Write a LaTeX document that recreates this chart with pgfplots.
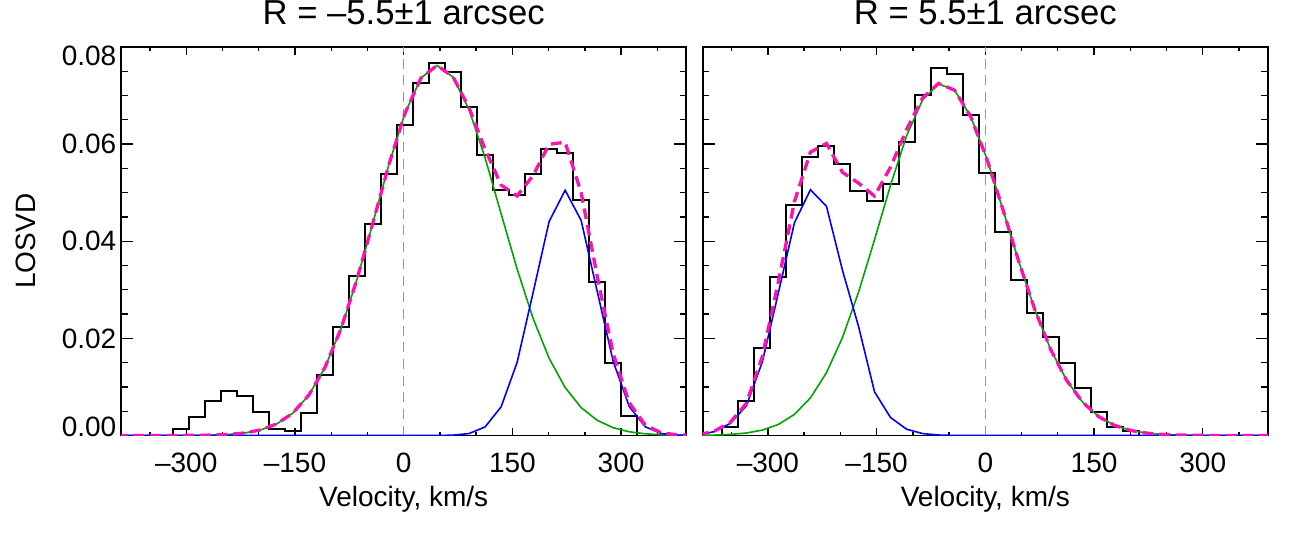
\documentclass[border=0pt]{standalone}
\usepackage{fontspec}
\setmainfont{Liberation Sans}
\usepackage{pgfplots}
\usepackage{pgfplotstable}
\pgfplotsset{compat=1.18}

\definecolor{fitgreen}{RGB}{0,165,0}
\definecolor{fitblue}{RGB}{0,0,255}
\definecolor{fitpink}{RGB}{250,20,175}
\definecolor{zeroline}{RGB}{150,150,150}

% Histogram: left bin edge, bin height
\pgfplotstableread{
edge h
-400 0
-318.65 0.0013
-296.55 0.0039
-274.45 0.0071
-252.35 0.0091
-230.25 0.0082
-208.15 0.0048
-186.05 0.0013
-163.95 0.0009
-141.85 0.0047
-119.75 0.0124
-97.65 0.0223
-75.55 0.0328
-53.45 0.0436
-31.35 0.0538
-9.25 0.0640
12.85 0.0725
34.95 0.0768
57.05 0.0749
79.15 0.0676
101.25 0.0578
123.35 0.0506
145.45 0.0495
167.55 0.0539
189.65 0.0590
211.75 0.0582
233.85 0.0484
255.95 0.0317
278.05 0.0149
300.15 0.0041
322.25 0
400 0
}\histleft

\pgfplotstableread{
edge h
-400 0
-362.85 0.0017
-340.75 0.0071
-318.65 0.0180
-296.55 0.0327
-274.45 0.0474
-252.35 0.0573
-230.25 0.0597
-208.15 0.0560
-186.05 0.0504
-163.95 0.0482
-141.85 0.0518
-119.75 0.0605
-97.65 0.0701
-75.55 0.0757
-53.45 0.0744
-31.35 0.0660
-9.25 0.0540
12.85 0.0420
34.95 0.0321
57.05 0.0253
79.15 0.0202
101.25 0.0150
123.35 0.0097
145.45 0.0049
167.55 0.0017
189.65 0.0010
211.75 0
400 0
}\histright

% Fitted components at the bin centres
\pgfplotstableread{
v green blue total
-396.0 0 0 0
-373.9 0 0 0
-351.8 0 0 0
-329.7 0 0 0
-307.6 0.00001 0 0.00001
-285.5 0.00003 0 0.00003
-263.4 0.00009 0 0.00009
-241.3 0.00022 0 0.00022
-219.2 0.00052 0 0.00052
-197.1 0.00116 0 0.00116
-175.0 0.00239 0 0.00239
-152.9 0.00462 0 0.00462
-130.8 0.00832 0 0.00832
-108.7 0.01398 0 0.01398
-86.6 0.02192 0 0.02192
-64.5 0.03208 0 0.03208
-42.4 0.04380 0 0.04380
-20.3 0.05581 0 0.05581
1.8 0.06635 0 0.06635
23.9 0.07361 0 0.07361
46.0 0.07620 0 0.07620
68.1 0.07380 0.00007 0.07387
90.2 0.06710 0.00040 0.06750
112.3 0.05720 0.00176 0.05896
134.4 0.04570 0.00588 0.05158
156.5 0.03430 0.01503 0.04933
178.6 0.02410 0.02943 0.05353
200.7 0.01590 0.04407 0.05997
222.8 0.00988 0.05050 0.06038
244.9 0.00574 0.04428 0.05002
267.0 0.00313 0.02971 0.03284
289.1 0.00160 0.01525 0.01685
311.2 0.00077 0.00599 0.00676
333.3 0.00035 0.00180 0.00215
355.4 0.00015 0.00041 0.00056
377.5 0.00006 0.00007 0.00013
399.6 0.00002 0 0.00002
}\fitleft

\pgfplotstableread{
v green blue total
-396.0 0.00003 0.0001 0.00013
-373.9 0.00009 0.0008 0.00089
-351.8 0.00022 0.0025 0.00272
-329.7 0.00051 0.0061 0.00661
-307.6 0.00112 0.0152 0.01632
-285.5 0.00228 0.0294 0.03168
-263.4 0.00435 0.0438 0.04815
-241.3 0.00775 0.0506 0.05835
-219.2 0.01293 0.0472 0.06013
-197.1 0.02018 0.0340 0.05418
-175.0 0.02949 0.0225 0.05199
-152.9 0.04030 0.0090 0.04930
-130.8 0.05155 0.0037 0.05525
-108.7 0.06170 0.0013 0.06300
-86.6 0.06909 0.0004 0.06949
-64.5 0.07240 0.0001 0.07250
-42.4 0.07110 0 0.07110
-20.3 0.06570 0 0.06570
1.8 0.05710 0 0.05710
23.9 0.04670 0 0.04670
46.0 0.03590 0 0.03590
68.1 0.02600 0 0.02600
90.2 0.01770 0 0.01770
112.3 0.01134 0 0.01134
134.4 0.00683 0 0.00683
156.5 0.00387 0 0.00387
178.6 0.00207 0 0.00207
200.7 0.00104 0 0.00104
222.8 0.00049 0 0.00049
244.9 0.00022 0 0.00022
267.0 0.00009 0 0.00009
289.1 0.00004 0 0.00004
311.2 0.00001 0 0.00001
333.3 0 0 0
355.4 0 0 0
377.5 0 0 0
399.6 0 0 0
}\fitright

\pgfplotsset{
  losvd/.style={
    scale only axis,
    width=424pt, height=291.4pt,
    xmin=-390, xmax=390, ymin=0, ymax=0.08,
    xtick={-300,-150,0,150,300},
    xticklabels={–300,–150,0,150,300},
    minor xtick={-350,-250,-200,-100,-50,50,100,200,250,350},
    ytick={0,0.02,0.04,0.06,0.08},
    minor ytick={0.005,0.01,0.015,0.025,0.03,0.035,0.045,0.05,0.055,0.065,0.07,0.075},
    scaled y ticks=false,
    tick align=inside,
    tick pos=both,
    major tick length=9pt,
    minor tick length=5pt,
    xtick style={/pgfplots/major tick length=6pt,/pgfplots/minor tick length=3pt},
    tick style={black, line width=1pt},
    axis line style={black, line width=1.3pt},
    tick label style={font=\fontsize{21}{25}\selectfont},
    xticklabel style={anchor=base, yshift=-27.4pt},
    label style={font=\fontsize{21}{25}\selectfont},
    xlabel={Velocity, km/s},
    xlabel style={at={(axis description cs:0.5,0)}, anchor=base, yshift=-52.9pt},
    title style={at={(axis description cs:0.5,1)}, anchor=base, yshift=10.5pt,
                 font=\fontsize{26}{30}\selectfont},
    clip=true,
  },
  zero/.style={zeroline, line width=0.8pt, dash pattern=on 7.5pt off 5pt},
  hist/.style={const plot, black, line width=1.5pt},
  comp1/.style={fitgreen, line width=1.2pt},
  comp2/.style={fitblue, line width=1.2pt},
  total/.style={fitpink, line width=2.5pt, dash pattern=on 8pt off 4.5pt},
}

\begin{document}
\begin{tikzpicture}
\useasboundingbox (0,0) rectangle (973.5pt,399pt);

\begin{axis}[losvd,
  at={(90.75pt,72.375pt)}, anchor=south west,
  title={R = –5.5±1 arcsec},
  yticklabels={\raisebox{12.8pt}{0.00},0.02,0.04,0.06,\raisebox{-13.5pt}[\height]{0.08}},
  ylabel={LOSVD},
  ylabel style={at={(axis description cs:-0.1675,0.5)}, anchor=center},
]
\addplot[zero] coordinates {(0,0) (0,0.08)};
\addplot[hist] table[x=edge, y=h] {\histleft};
\addplot[comp1] table[x=v, y=green] {\fitleft};
\addplot[comp2] table[x=v, y=blue] {\fitleft};
\addplot[total] table[x=v, y=total] {\fitleft};
\end{axis}

\begin{axis}[losvd,
  at={(527pt,72.375pt)}, anchor=south west,
  title={R = 5.5±1 arcsec},
  yticklabels={},
]
\addplot[zero] coordinates {(0,0) (0,0.08)};
\addplot[hist] table[x=edge, y=h] {\histright};
\addplot[comp1] table[x=v, y=green] {\fitright};
\addplot[comp2] table[x=v, y=blue] {\fitright};
\addplot[total] table[x=v, y=total] {\fitright};
\end{axis}
\end{tikzpicture}
\end{document}
